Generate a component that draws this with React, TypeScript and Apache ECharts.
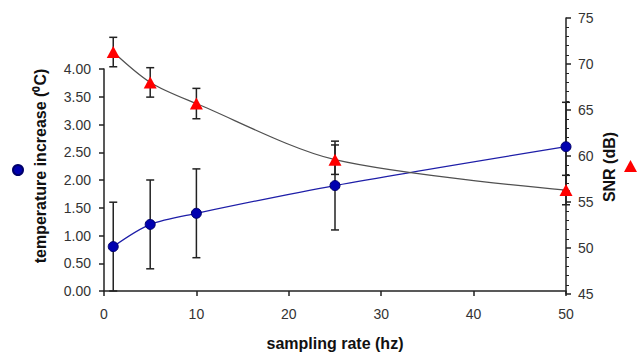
import React, { useEffect, useRef } from "react";
import * as echarts from "echarts";

const samplingRates = [1, 5, 10, 25, 50];
const temperature = [0.8, 1.2, 1.4, 1.9, 2.6];
const temperatureError = [0.8, 0.8, 0.8, 0.8, 0.8];
const snr = [71.3, 68.0, 65.7, 59.6, 56.3];
const snrError = [1.6, 1.6, 1.65, 1.6, 1.6];

const FONT = "'Liberation Sans', Arial, sans-serif";
const AXIS = "#222";

const errorRender = (params: any, api: any) => {
  const x = api.value(0);
  const lo = api.coord([x, api.value(1)]);
  const hi = api.coord([x, api.value(2)]);
  const w = 4;
  const style = { stroke: AXIS, lineWidth: 1.5 };
  return {
    type: "group",
    children: [
      { type: "line", shape: { x1: lo[0], y1: lo[1], x2: hi[0], y2: hi[1] }, style },
      { type: "line", shape: { x1: lo[0] - w, y1: lo[1], x2: lo[0] + w, y2: lo[1] }, style },
      { type: "line", shape: { x1: hi[0] - w, y1: hi[1], x2: hi[0] + w, y2: hi[1] }, style },
    ],
  };
};

export default function App() {
  const ref = useRef<HTMLDivElement>(null);
  useEffect(() => {
    if (!ref.current) return;
    const chart = echarts.init(ref.current, undefined, { renderer: "svg" });
    const tempErrData = samplingRates.map((x, i) => [x, temperature[i] - temperatureError[i], temperature[i] + temperatureError[i]]);
    const snrErrData = samplingRates.map((x, i) => [x, snr[i] - snrError[i], snr[i] + snrError[i]]);
    const axisLabel = { color: "#333", fontSize: 14, fontFamily: FONT };
    chart.setOption({
      animation: false,
      backgroundColor: "#fff",
      textStyle: { fontFamily: FONT },
      grid: [
        { left: 104, right: 72, top: 69, bottom: 62 },
        { left: 104, right: 72, top: 18, bottom: 62 },
      ],
      legend: [
        {
          data: [{ name: "temperature increase", icon: "circle" }],
          left: 12, top: 164, padding: 0, itemWidth: 10, itemHeight: 10,
          formatter: () => "", textStyle: { fontSize: 1 }, selectedMode: false,
        },
        {
          data: [{ name: "SNR", icon: "triangle" }],
          left: 624, top: 160, padding: 0, itemWidth: 13, itemHeight: 12,
          formatter: () => "", textStyle: { fontSize: 1 }, selectedMode: false,
        },
      ],
      xAxis: [
        {
          type: "value", gridIndex: 0, min: 0, max: 50, interval: 10,
          name: "sampling rate (hz)", nameLocation: "middle", nameGap: 44,
          nameTextStyle: { fontWeight: "bold", fontSize: 16, color: "#111", fontFamily: FONT },
          axisLine: { onZero: false, lineStyle: { color: AXIS, width: 1.5 } },
          axisTick: { show: true, length: 5, lineStyle: { color: AXIS, width: 1.5 } },
          axisLabel: { ...axisLabel, margin: 16 },
          splitLine: { show: false },
        },
        { type: "value", gridIndex: 1, min: 0, max: 50, show: false },
      ],
      yAxis: [
        {
          type: "value", gridIndex: 0, min: 0, max: 4, interval: 0.5, position: "left",
          axisLine: { show: true, onZero: false, lineStyle: { color: AXIS, width: 1.5 } },
          axisTick: { show: true, length: 5, lineStyle: { color: AXIS, width: 1.5 } },
          axisLabel: { ...axisLabel, margin: 13, formatter: (v: number) => v.toFixed(2) },
          splitLine: { show: false },
        },
        {
          type: "value", gridIndex: 1, min: 45, max: 75, interval: 5, position: "right",
          axisLine: { show: true, onZero: false, lineStyle: { color: AXIS, width: 1.5 } },
          axisTick: { show: true, length: 5, lineStyle: { color: AXIS, width: 1.5 } },
          minorTick: { show: true, splitNumber: 5, length: 3, lineStyle: { color: AXIS, width: 1 } },
          axisLabel: { ...axisLabel, margin: 12 },
          splitLine: { show: false },
        },
      ],
      graphic: [
        {
          type: "text", x: 40, y: 166, rotation: Math.PI / 2,
          style: {
            text: "temperature increase (⁰C)", align: "center", verticalAlign: "middle",
            font: `bold 16px ${FONT}`, fill: "#111",
          },
        },
        {
          type: "text", x: 609, y: 167, rotation: Math.PI / 2,
          style: {
            text: "SNR (dB)", align: "center", verticalAlign: "middle",
            font: `bold 16px ${FONT}`, fill: "#111",
          },
        },
      ],
      series: [
        {
          name: "temperature error", type: "custom", xAxisIndex: 0, yAxisIndex: 0,
          renderItem: errorRender, data: tempErrData, encode: { x: 0, y: [1, 2] }, z: 2,
        },
        {
          name: "SNR error", type: "custom", xAxisIndex: 1, yAxisIndex: 1,
          renderItem: errorRender, data: snrErrData, encode: { x: 0, y: [1, 2] }, z: 2,
        },
        {
          name: "temperature increase", type: "line", xAxisIndex: 0, yAxisIndex: 0,
          data: samplingRates.map((x, i) => [x, temperature[i]]),
          smooth: 0.3, symbol: "circle", symbolSize: 10,
          itemStyle: { color: "#0000b0", borderColor: "#00006a", borderWidth: 1 },
          lineStyle: { color: "#1e1ea8", width: 1.3 }, z: 3,
        },
        {
          name: "SNR", type: "line", xAxisIndex: 1, yAxisIndex: 1,
          data: samplingRates.map((x, i) => [x, snr[i]]),
          smooth: 0.3, symbol: "triangle", symbolSize: [13, 12],
          itemStyle: { color: "#ff0000" },
          lineStyle: { color: "#505050", width: 1.2 }, z: 3,
        },
      ],
    });
    return () => chart.dispose();
  }, []);
  return <div ref={ref} style={{ position: "fixed", left: 0, top: 0, width: 638, height: 356, background: "#fff" }} />;
}
